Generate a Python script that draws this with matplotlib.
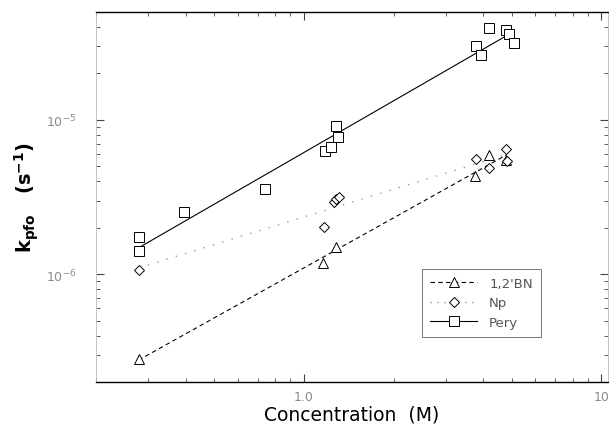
import numpy as np
import matplotlib.pyplot as plt
from matplotlib.ticker import LogLocator, FixedLocator, NullFormatter

# data (concentration in M, k_pfo in s^-1)
bn_conc = [0.278, 1.157, 1.278, 3.77, 4.20, 4.79]
bn_k = [2.83e-7, 1.18e-6, 1.49e-6, 4.35e-6, 5.94e-6, 5.52e-6]

np_conc = [0.278, 1.166, 1.26, 1.28, 1.31, 3.80, 4.20, 4.79, 4.82]
np_k = [1.06e-6, 2.01e-6, 2.95e-6, 3.05e-6, 3.15e-6, 5.6e-6, 4.9e-6, 6.5e-6, 5.43e-6]

pery_conc = [0.278, 0.278, 0.395, 0.741, 1.175, 1.23, 1.298, 1.278,
             3.80, 3.95, 4.20, 4.79, 4.90, 5.09]
pery_k = [1.73e-6, 1.41e-6, 2.51e-6, 3.59e-6, 6.31e-6, 6.70e-6, 7.76e-6, 9.14e-6,
          3.0e-5, 2.62e-5, 3.93e-5, 3.80e-5, 3.60e-5, 3.14e-5]

labels = ["1,2'BN", "Np", "Pery"]
x_ticks = [1.0, 10.0]
x_ticklabels = ["1.0", "10"]

grey = "#8a8a8a"

fig = plt.figure(figsize=(6.09, 4.31), dpi=100)
ax = fig.add_axes([0.1576, 0.1114, 0.8404, 0.8584])


def fit_line(x, y):
    p = np.polyfit(np.log10(x), np.log10(y), 1)
    xs = np.array([min(x), max(x)])
    return xs, 10 ** np.polyval(p, np.log10(xs))


xs, ys = fit_line(bn_conc, bn_k)
ax.plot(xs, ys, color="black", lw=0.8, ls=(0, (4, 3)))
xs, ys = fit_line(np_conc, np_k)
ax.plot(xs, ys, color="#9a9a9a", lw=1.0, ls=(0, (1, 6)))
xs, ys = fit_line(pery_conc, pery_k)
ax.plot(xs, ys, color="black", lw=0.8, ls="-")

mk = dict(ls="none", mfc="white", mec="black", mew=0.7, ms=6.5)
ax.plot(bn_conc, bn_k, marker="^", **mk)
ax.plot(np_conc, np_k, marker="D", **dict(mk, ms=5))
ax.plot(pery_conc, pery_k, marker="s", **mk)

# legend proxies
h1, = ax.plot([], [], color="black", lw=0.8, ls=(0, (4, 3)), marker="^",
              mfc="white", mec="black", mew=0.7, ms=6.5)
h2, = ax.plot([], [], color="#9a9a9a", lw=1.0, ls=(0, (1, 4)), marker="D",
              mfc="white", mec="black", mew=0.7, ms=5)
h3, = ax.plot([], [], color="black", lw=0.8, ls="-", marker="s",
              mfc="white", mec="black", mew=0.7, ms=6.5)
leg = ax.legend([h1, h2, h3], labels, loc="lower right",
                bbox_to_anchor=(0.869, 0.122), borderaxespad=0,
                frameon=True, fancybox=False,
                handlelength=3.6, handletextpad=0.9, borderpad=0.6,
                labelspacing=0.5, prop={"size": 9.5})
leg.get_frame().set_edgecolor("#555555")
leg.get_frame().set_linewidth(0.7)
for t in leg.get_texts():
    t.set_color("#555555")

ax.set_xscale("log")
ax.set_yscale("log")
ax.set_xlim(0.2, 10.5)
ax.set_ylim(2e-7, 5e-5)

ax.xaxis.set_major_locator(FixedLocator(x_ticks))
ax.set_xticklabels(x_ticklabels)
ax.xaxis.set_minor_locator(LogLocator(base=10, subs=np.arange(2, 10)))
ax.xaxis.set_minor_formatter(NullFormatter())
ax.yaxis.set_major_locator(LogLocator(base=10))
ax.yaxis.set_minor_locator(LogLocator(base=10, subs=np.arange(2, 10)))
ax.yaxis.set_minor_formatter(NullFormatter())

ax.tick_params(which="both", direction="in", top=True, right=True,
               color="#444444", labelcolor=grey, labelsize=9)
ax.tick_params(which="major", length=6, width=0.8)
ax.tick_params(which="minor", length=3, width=0.6)
ax.tick_params(axis="y", pad=14)
ax.tick_params(axis="x", pad=6)

for side in ["top", "bottom"]:
    ax.spines[side].set_linewidth(1.0)
for side in ["left", "right"]:
    ax.spines[side].set_color("#bbbbbb")
    ax.spines[side].set_linewidth(0.6)

ax.set_xlabel("Concentration  (M)", fontsize=13.5, labelpad=1)
ax.set_ylabel(r"k$_{\mathregular{pfo}}$   (s$^{\mathregular{-1}}$)", fontsize=14,
              fontweight="bold", labelpad=4)

fig.savefig("out.png", dpi=100)
